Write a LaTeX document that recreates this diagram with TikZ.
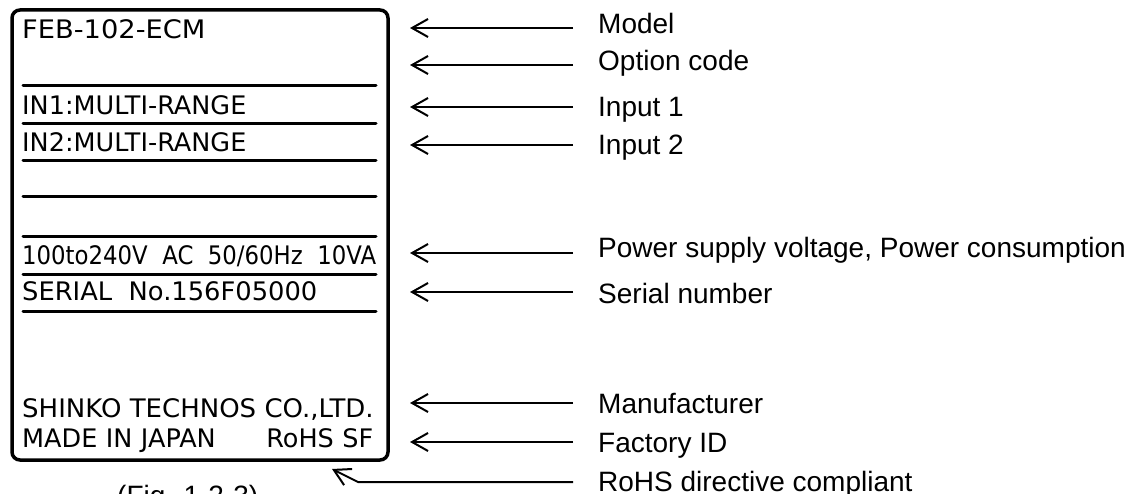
\documentclass[tikz,border=0pt]{standalone}
\usepackage{fontspec}
\usepackage{graphicx}
\setmainfont{Liberation Sans}
\newfontfamily\platefont{DejaVu Sans}
\usetikzlibrary{arrows.meta}
\newcommand{\hsq}[2]{\scalebox{#1}[1]{#2}}
\tikzset{
  platebox/.style={line width=3.5pt, rounded corners=8pt},
  rule/.style={line width=3pt, line cap=round},
  platetxt/.style={anchor=base west, inner sep=0pt, font=\platefont\fontsize{25.5}{30}\selectfont},
  lbl/.style={anchor=base west, inner sep=0pt, font=\fontsize{28}{32}\selectfont},
  arr/.style={line width=2pt, -{Straight Barb[length=16pt,width=18pt,line width=2pt]}},
}
\begin{document}
\begin{tikzpicture}[x=1pt,y=-1pt]
\useasboundingbox (0,0) rectangle (1129,494);
% plate
\draw[platebox] (12,10) rectangle (388,460);
\foreach \yy in {86,124,161,197,237,274,311}
  \draw[rule] (23,\yy) -- (376,\yy);
\node[platetxt] (model) at (22,39) {\hsq{1.07}{FEB-102-ECM}};
\node[platetxt] (in1) at (22,115) {IN1:MULTI-RANGE};
\node[platetxt] (in2) at (22,152) {IN2:MULTI-RANGE};
\node[platetxt] (pwr) at (22,265) {\hsq{0.895}{100to240V\ \ AC\ \ 50/60Hz\ \ 10VA}};
\node[platetxt] (ser) at (22,300) {\hsq{1.01}{SERIAL\ \ No.156F05000}};
\node[platetxt] (mfr) at (22,417) {\hsq{1.02}{SHINKO\ TECHNOS\ CO.,LTD.}};
\node[platetxt, text width=351pt] (fac) at (22,447) {MADE\ IN\ JAPAN\hfill RoHS\ SF};
% labels
\node[lbl] (lModel) at (598,34) {Model};
\node[lbl] (lOpt) at (598,71) {Option code};
\node[lbl] (lIn1) at (598,117) {Input 1};
\node[lbl] (lIn2) at (598,155) {Input 2};
\node[lbl] (lPwr) at (598,258) {Power supply voltage, Power consumption};
\node[lbl] (lSer) at (598,303) {Serial number};
\node[lbl] (lMfr) at (598,413) {Manufacturer};
\node[lbl] (lFac) at (598,452) {Factory ID};
\node[lbl] (lRohs) at (598,491) {RoHS directive compliant};
\node[lbl] (fig) at (117,505) {(Fig. 1-2-3)};
% arrows
\foreach \n/\yy in {a/28,b/65,c/107,d/145,e/253,f/292,g/403,h/442}{
  \coordinate (s\n) at (573,\yy);
  \coordinate (e\n) at (410,\yy);
  \draw[arr] (s\n) -- (e\n);
}
\coordinate (sr) at (573,482);
\coordinate (kr) at (358,482);
\coordinate (er) at (332,469);
\draw[arr] (sr) -- (kr) -- (er);
\end{tikzpicture}
\end{document}
